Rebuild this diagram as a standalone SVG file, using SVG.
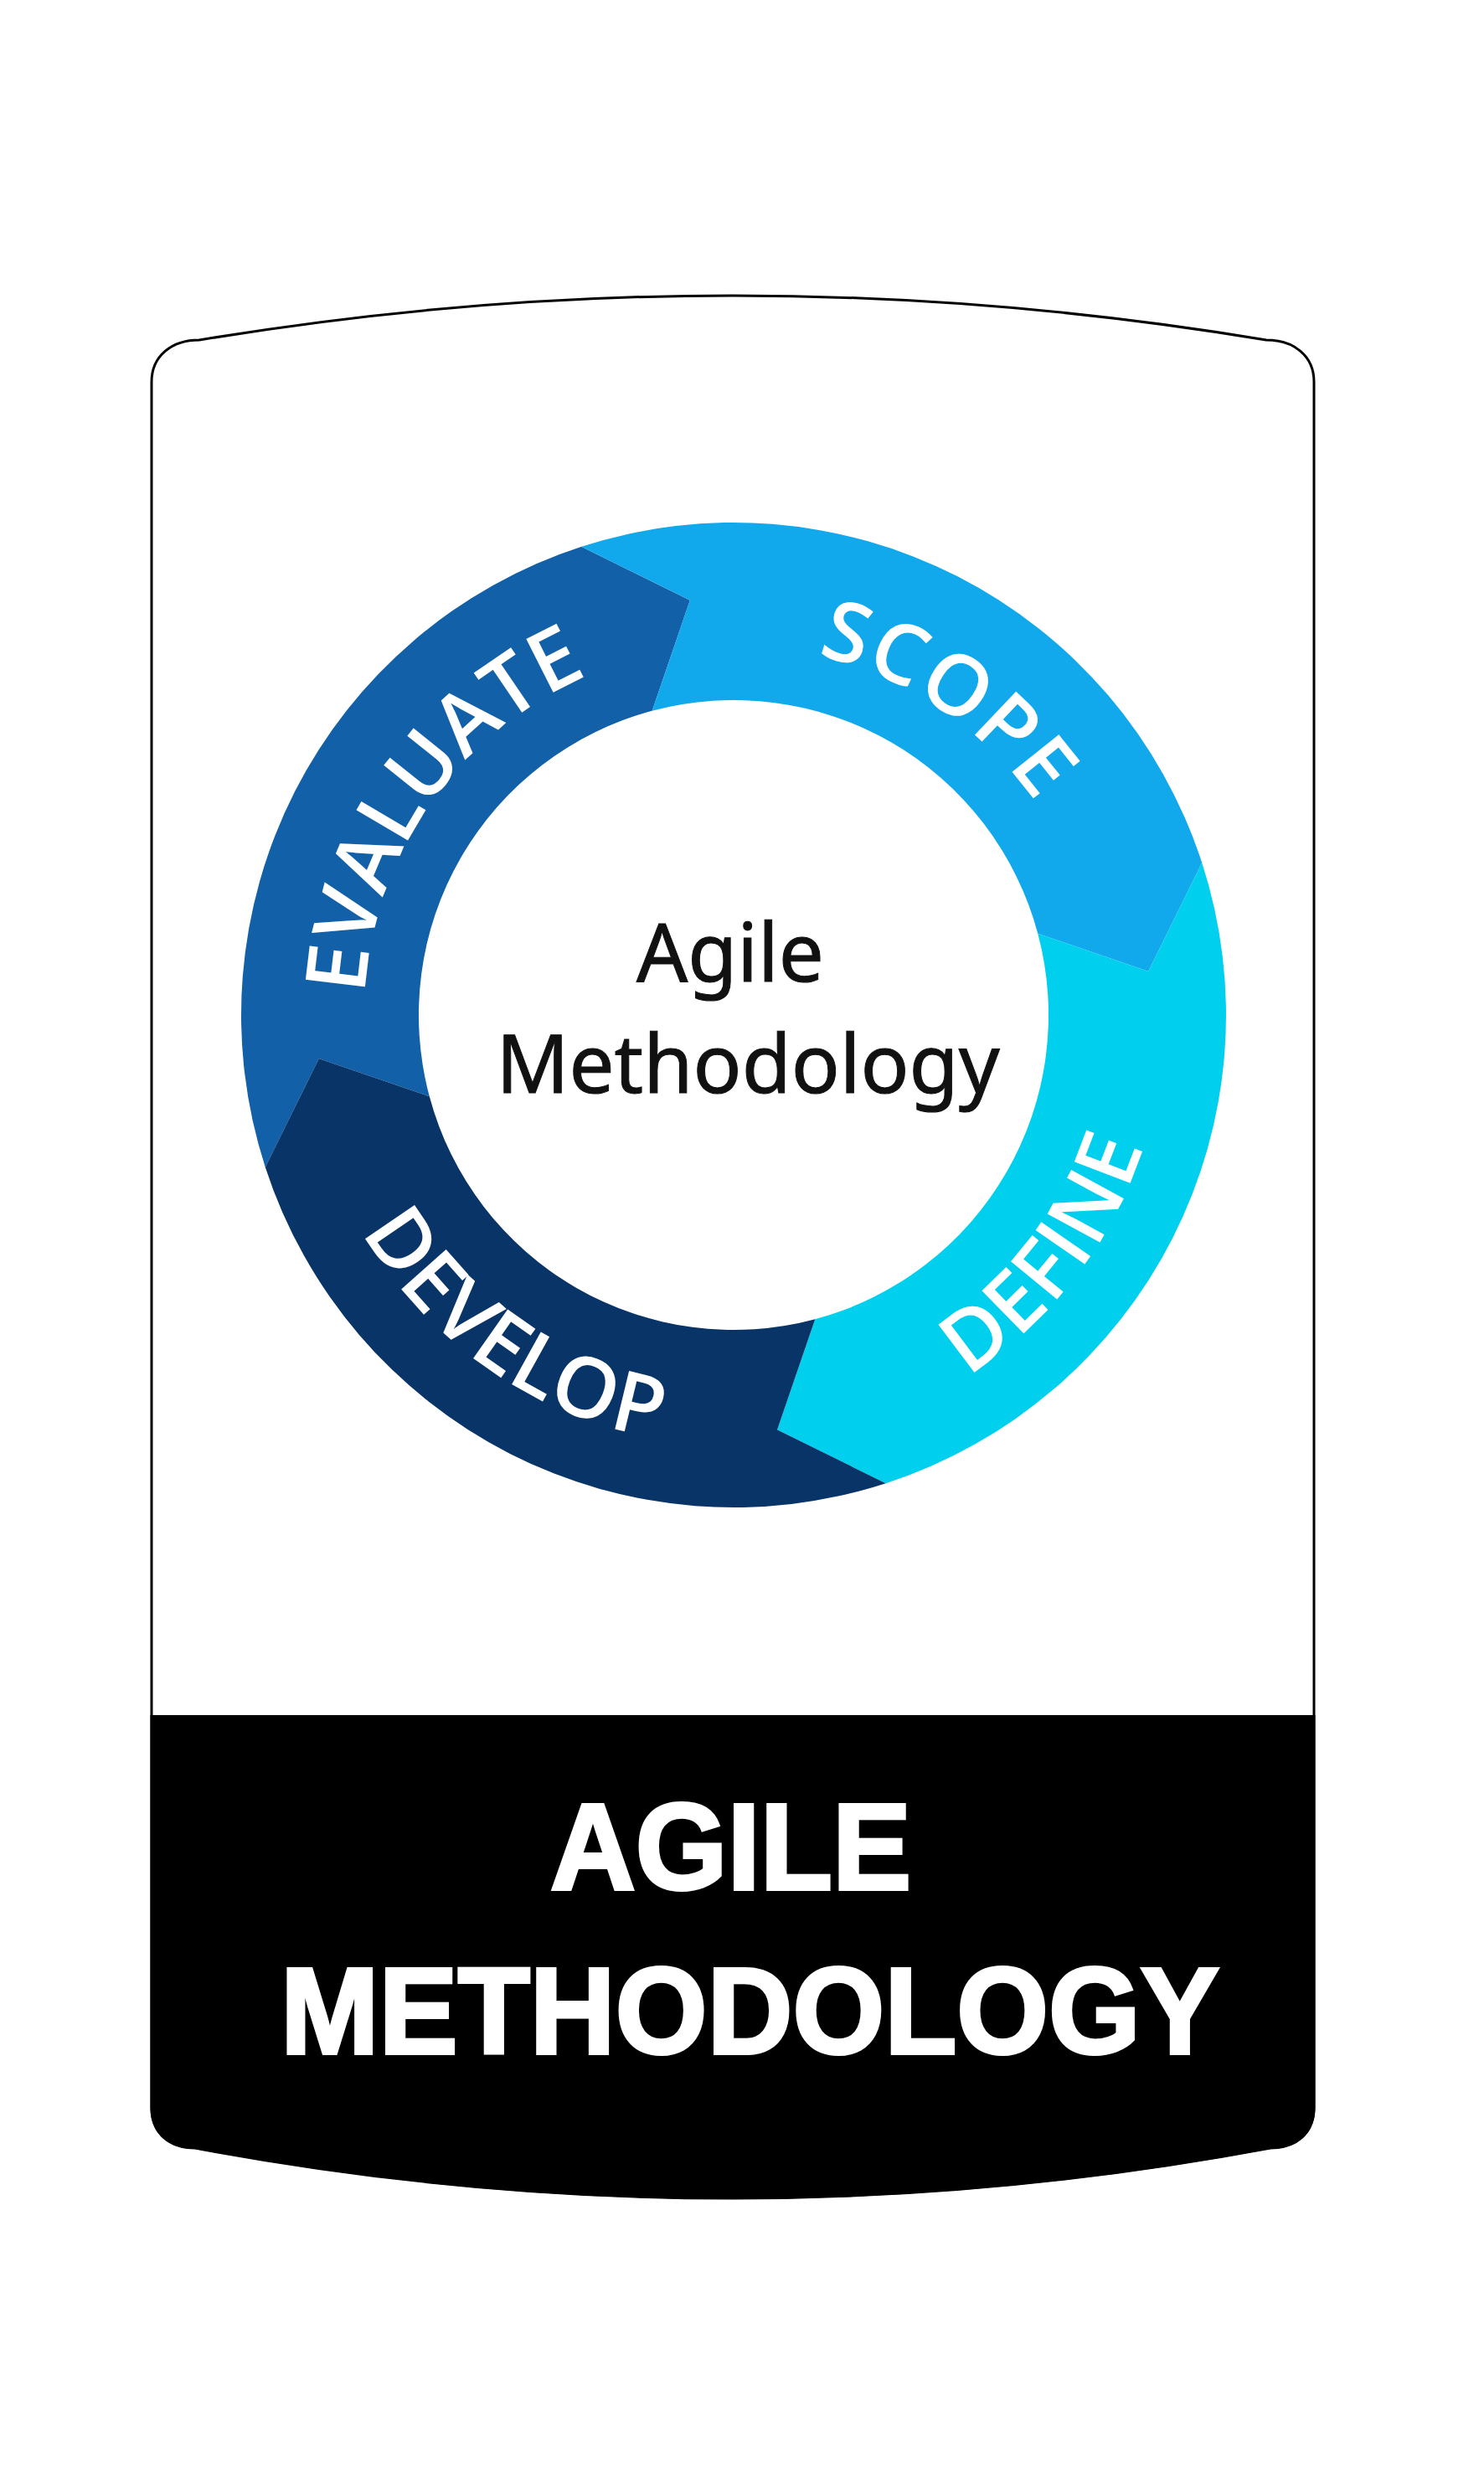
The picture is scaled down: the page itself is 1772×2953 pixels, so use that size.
<svg xmlns="http://www.w3.org/2000/svg" width="1772" height="2953" viewBox="0 0 1772 2953">
  <style>
    .ring-label { font-family: "Open Sans", "Noto Sans", "DejaVu Sans", sans-serif; font-size: 100px; font-weight: 600; fill: #ffffff; text-anchor: middle; }
    .center-label { font-family: "Noto Sans", "Open Sans", "DejaVu Sans", sans-serif; font-size: 96px; fill: #111111; stroke: #111111; stroke-width: 1px; }
    .title { font-family: "Liberation Sans", Arial, sans-serif; font-weight: bold; font-size: 147px; fill: #ffffff; stroke: #ffffff; stroke-width: 4px; }
  </style>
  <defs>
    <path id="seg" d="M588,0 A588,588 0 0 1 0,588 L-103.5,487.1 L-19.7,375.5 A376,376 0 0 0 375.5,19.7 L487.1,103.5 Z"/>
  </defs>
  <rect width="1772" height="2953" fill="#ffffff"/>

  <g id="card">
    <path d="M181,456 C181,425 205,406 238,406 Q875,300 1512,406 C1545,406 1569,425 1569,456 V2517 C1569,2548 1547,2565 1517,2565 Q875,2685 233,2565 C203,2565 181,2548 181,2517 Z" fill="#ffffff" stroke="#000000" stroke-width="3"/>
    <path d="M179.5,2048 H1570.5 V2517 C1570.5,2548 1548,2566 1517,2566 Q875,2686 233,2566 C202,2566 179.5,2548 179.5,2517 Z" fill="#000000"/>
  </g>

  <g id="cycle" transform="translate(876,1212)">
    <g id="evaluate">
      <use href="#seg" transform="rotate(162)" fill="#1261a8"/>
      <g class="ring-label">
        <text transform="rotate(276.8) translate(0,-441)">E</text>
        <text transform="rotate(284.5) translate(0,-441)">V</text>
        <text transform="rotate(292.8) translate(0,-441)">A</text>
        <text transform="rotate(300.5) translate(0,-441)">L</text>
        <text transform="rotate(308.7) translate(0,-441)">U</text>
        <text transform="rotate(317.8) translate(0,-441)">A</text>
        <text transform="rotate(325.8) translate(0,-441)">T</text>
        <text transform="rotate(333.2) translate(0,-441)">E</text>
      </g>
    </g>
    <g id="scope">
      <use href="#seg" transform="rotate(-108)" fill="#11a9ec"/>
      <g class="ring-label">
        <text transform="rotate(16.6) translate(0,-441)">S</text>
        <text transform="rotate(24.6) translate(0,-441)">C</text>
        <text transform="rotate(34.2) translate(0,-441)">O</text>
        <text transform="rotate(43.5) translate(0,-441)">P</text>
        <text transform="rotate(51.3) translate(0,-441)">E</text>
      </g>
    </g>
    <g id="define">
      <use href="#seg" transform="rotate(-18)" fill="#00d0ee"/>
      <g class="ring-label">
        <text transform="rotate(-37.0) translate(0,514)">D</text>
        <text transform="rotate(-44.4) translate(0,514)">E</text>
        <text transform="rotate(-50.6) translate(0,514)">F</text>
        <text transform="rotate(-55.3) translate(0,514)">I</text>
        <text transform="rotate(-61.5) translate(0,514)">N</text>
        <text transform="rotate(-69.1) translate(0,514)">E</text>
      </g>
    </g>
    <g id="develop">
      <use href="#seg" transform="rotate(72)" fill="#083468"/>
      <g class="ring-label">
        <text transform="rotate(55.7) translate(0,514)">D</text>
        <text transform="rotate(48.4) translate(0,514)">E</text>
        <text transform="rotate(41.7) translate(0,514)">V</text>
        <text transform="rotate(35.1) translate(0,514)">E</text>
        <text transform="rotate(29.0) translate(0,514)">L</text>
        <text transform="rotate(21.6) translate(0,514)">O</text>
        <text transform="rotate(13.6) translate(0,514)">P</text>
      </g>
    </g>
  </g>

  <g id="center">
    <text class="center-label" x="872" y="1172" text-anchor="middle">Agile</text>
    <text class="center-label" x="893" y="1305" text-anchor="middle">Methodology</text>
  </g>

  <g id="title">
    <text class="title" x="657" y="2256" textLength="431" lengthAdjust="spacingAndGlyphs">AGILE</text>
    <text class="title" x="335" y="2452" textLength="1121" lengthAdjust="spacingAndGlyphs">METHODOLOGY</text>
  </g>
</svg>
